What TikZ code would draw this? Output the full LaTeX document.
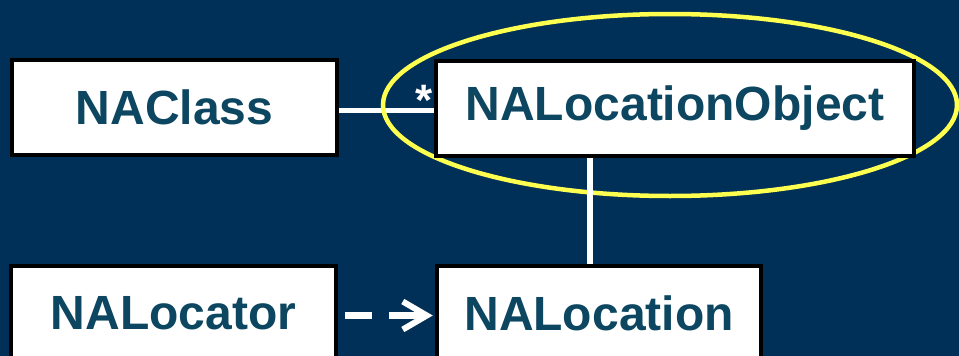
\documentclass[tikz,border=0pt]{standalone}
\usepackage{fontspec}
\setmainfont{Liberation Sans}
\usetikzlibrary{arrows.meta}
\definecolor{bgblue}{RGB}{0,48,87}
\definecolor{txtblue}{RGB}{12,70,96}
\definecolor{hiyellow}{RGB}{255,255,80}
\pgfdeclarelayer{bg}
\pgfdeclarelayer{lines}
\pgfsetlayers{bg,lines,main}
\tikzset{
  classbox/.style={draw=black, line width=4.5pt, fill=white, minimum height=95pt,
    inner sep=0pt, text=txtblue, font=\fontsize{48}{48}\selectfont\bfseries},
  assoc/.style={draw=white, line width=5pt},
  depend/.style={draw=white, line width=6.5pt, shorten <=7pt, dash pattern=on 27pt off 17pt on 60pt,
    -{Straight Barb[length=24pt,width=28pt,line width=6pt]}}
}
\begin{document}
\begin{tikzpicture}[x=1pt,y=-1pt]
\begin{pgfonlayer}{bg}
\fill[bgblue] (0,0) rectangle (959,356);
\end{pgfonlayer}
\useasboundingbox (0,0) rectangle (959,356);
\clip (0,0) rectangle (959,356);
\node[classbox, minimum width=325pt] (NAClass) at (174.5,107.5) {NAClass};
\node[classbox, minimum width=478pt] (NALocationObject) at (675,108.5) {NALocationObject};
\node[classbox, minimum width=325pt] (NALocator) at (173.5,313.5) {NALocator};
\node[classbox, minimum width=324pt] (NALocation) at (599,313.5) {NALocation};
\node[text=white, font=\fontsize{44}{44}\selectfont\bfseries, inner sep=0pt] (star) at (424,100) {*};
\begin{pgfonlayer}{lines}
% association NAClass -- NALocationObject
\draw[assoc] ([yshift=-3pt]NAClass.east) -- ([yshift=-3pt]NAClass.east -| NALocationObject.west);
% highlight ellipse
\draw[hiyellow, line width=4.5pt] (670,105) ellipse [x radius=287, y radius=91];
% association NALocationObject -- NALocation
\coordinate (vtop) at ([xshift=-9pt]NALocation.north |- NALocationObject.south);
\draw[assoc, line width=5.5pt] (vtop) -- ([xshift=-9pt]NALocation.north);
% dependency NALocator -> NALocation
\draw[depend] ([yshift=-2pt]NALocator.east) -- ([yshift=-2pt,xshift=-2pt]NALocator.east -| NALocation.west);
\end{pgfonlayer}
\end{tikzpicture}
\end{document}
